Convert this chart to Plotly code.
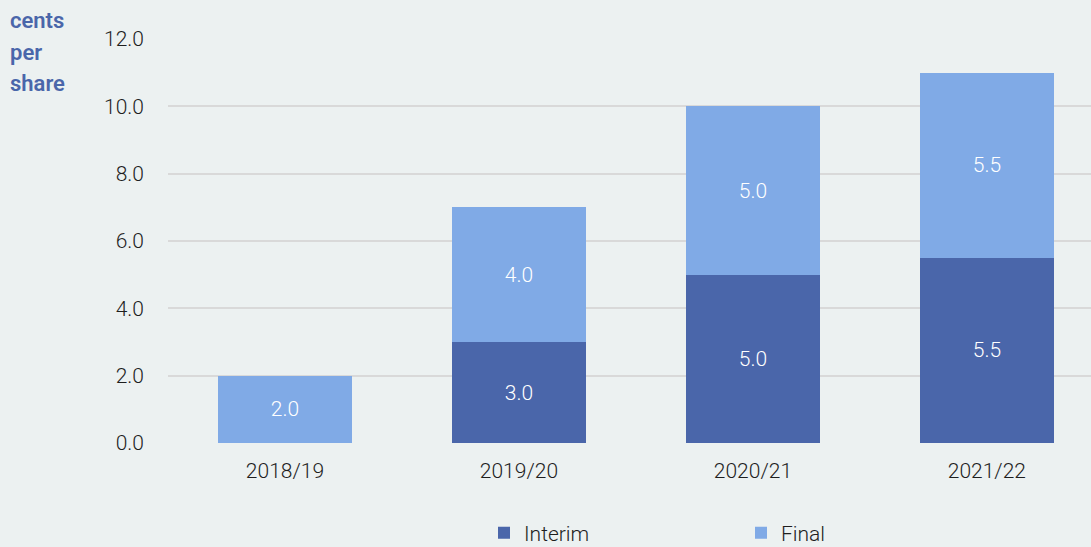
import plotly.graph_objects as go

years = ["2018/19", "2019/20", "2020/21", "2021/22"]
interim = [0.0, 3.0, 5.0, 5.5]
final = [2.0, 4.0, 5.0, 5.5]
y_ticks = [0, 2, 4, 6, 8, 10, 12]
y_tick_labels = ["0.0", "2.0", "4.0", "6.0", "8.0", "10.0", "12.0"]
title_lines = ["cents", "per", "share"]

C_INT = "#4A66AA"
C_FIN = "#80AAE6"
BG = "#ECF1F1"
FONT = "Roboto"
TXT = "#1E1E1E"

def labels(vals):
    return ["" if v == 0 else f"{v:.1f}" for v in vals]

fig = go.Figure()
for name, vals, col in [("Interim", interim, C_INT), ("Final", final, C_FIN)]:
    fig.add_trace(go.Bar(x=years, y=vals, name=name, marker_color=col,
                         marker_line_width=0, text=labels(vals), textposition="inside",
                         insidetextanchor="middle",
                         textfont=dict(color="white", size=21, family=FONT, weight=300)))

fig.update_layout(
    barmode="stack",
    bargap=0.427,
    width=1091, height=547,
    paper_bgcolor=BG, plot_bgcolor=BG,
    margin=dict(l=168, r=0, t=39, b=104, autoexpand=False),
    font=dict(family=FONT, size=21, color=TXT, weight=300),
    uniformtext=dict(mode="show", minsize=10),
    xaxis=dict(range=[-0.5, 3.445], showgrid=False, zeroline=False, showline=False,
               ticks="", ticklabelstandoff=13, tickfont=dict(size=21, color=TXT)),
    yaxis=dict(range=[0, 12], tickvals=y_ticks, ticktext=y_tick_labels,
               showgrid=True, gridcolor="#D9D9D9", gridwidth=2, zeroline=False,
               showline=False, ticks="", ticklabelstandoff=23,
               tickfont=dict(size=21, color=TXT)),
    legend=dict(orientation="h", x=(484 - 168) / 923, xanchor="left",
                y=-(533 - 443) / 404, yanchor="middle",
                traceorder="normal",
                entrywidth=212, entrywidthmode="pixels", itemsizing="constant",
                font=dict(size=21, color=TXT), bgcolor="rgba(0,0,0,0)"),
    showlegend=True,
)

for line, shift in zip(title_lines, [19, -13, -44]):
    fig.add_annotation(text=line, xref="paper", yref="paper",
                       x=-168/923, y=1, xanchor="left", yanchor="middle",
                       xshift=8, yshift=shift, align="left", showarrow=False,
                       font=dict(family=FONT, size=22, color=C_INT, weight=600))

fig.write_html("out.html", config={"displayModeBar": False},
               post_script="document.body.style.margin='0';document.body.style.overflow='hidden';")
